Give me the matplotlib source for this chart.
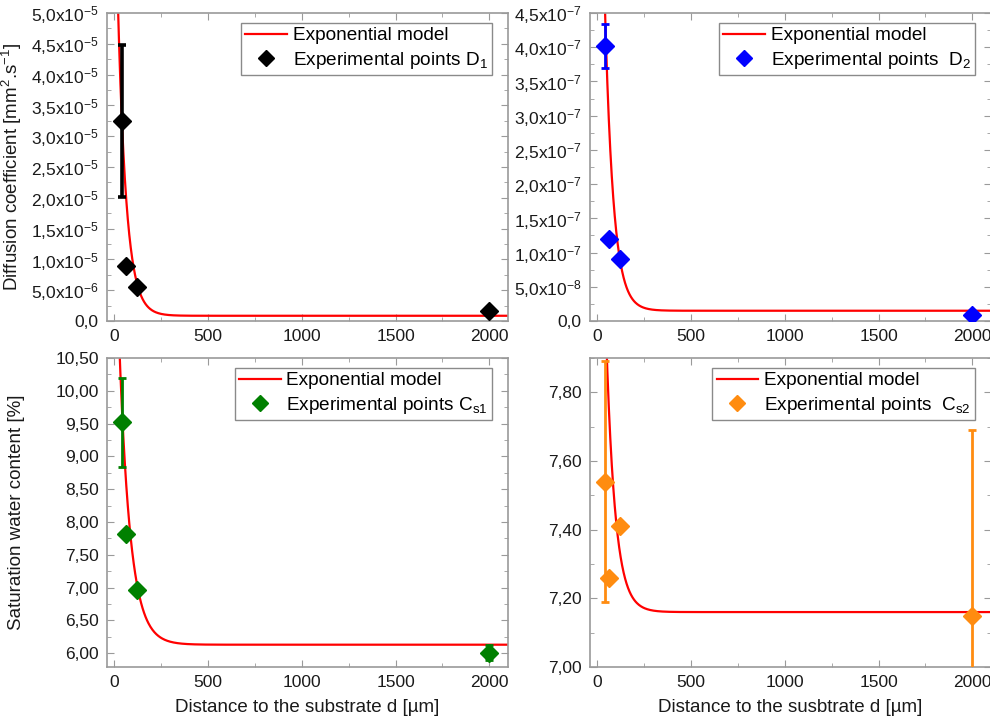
import numpy as np
import matplotlib
matplotlib.use("Agg")
import matplotlib.pyplot as plt
from matplotlib.ticker import MultipleLocator, FuncFormatter

# ==========================================
# data
# ==========================================
dist = [40, 60, 120, 2000]

d1 = [3.25e-5, 0.89e-5, 0.56e-5, 0.17e-5]
d1_err = [1.23e-5, 0, 0, 0]
d1_model = dict(y0=0.085e-5, a=7.6e-5, t=45)

d2 = [4.02e-7, 1.20e-7, 0.91e-7, 0.09e-7]
d2_err = [0.32e-7, 0, 0, 0]
d2_model = dict(y0=0.15e-7, a=10.7e-7, t=45)

cs1 = [9.52, 7.81, 6.97, 6.01]
cs1_err = [0.68, 0, 0, 0.115]
cs1_model = dict(y0=6.13, a=7.05, t=59)

cs2 = [7.54, 7.26, 7.41, 7.15]
cs2_err = [0.35, 0, 0, 0.54]
cs2_model = dict(y0=7.16, a=2.1, t=48)

# ==========================================
# style
# ==========================================
plt.rcParams['font.family'] = ['Liberation Sans', 'DejaVu Sans']
plt.rcParams['mathtext.fontset'] = 'custom'
plt.rcParams['mathtext.rm'] = 'Liberation Sans'
plt.rcParams['mathtext.it'] = 'Liberation Sans:italic'
plt.rcParams['font.size'] = 13

GRAY = '#9a9a9a'
TXT = '#1a1a1a'


def sci_fmt(v, pos):
    if abs(v) < 1e-15:
        return '0,0'
    e = int(np.floor(np.log10(abs(v)) + 1e-9))
    m = v / 10 ** e
    return f'{m:.1f}'.replace('.', ',') + r'x10$^{\mathregular{' + str(e) + '}}$'


def dec_fmt(v, pos):
    return f'{v:.2f}'.replace('.', ',')


def panel(rect, y, err, model, color, label, ylim, ymaj, fmt, elw=2.0):
    ax = fig.add_axes(rect)
    x = np.array(dist, dtype=float)
    y = np.array(y)
    err = np.array(err)

    # courbe du modele exponentiel
    xm = np.linspace(0, 2100, 800)
    ax.plot(xm, model['y0'] + model['a'] * np.exp(-xm / model['t']),
            color='#ff0000', lw=1.6, label='Exponential model', zorder=2)

    # barres d'erreur seulement la ou il y en a
    m = err > 0
    ax.errorbar(x[m], y[m], yerr=err[m], fmt='none', ecolor=color,
                elinewidth=elw, capsize=3, capthick=elw, zorder=3)
    ax.plot(x, y, 'D', color=color, ms=9, ls='none', label=label, zorder=4)

    ax.set_xlim(-40, 2100)
    ax.set_ylim(*ylim)
    ax.xaxis.set_major_locator(MultipleLocator(500))
    ax.xaxis.set_minor_locator(MultipleLocator(250))
    ax.yaxis.set_major_locator(MultipleLocator(ymaj))
    ax.yaxis.set_minor_locator(MultipleLocator(ymaj / 2))
    ax.yaxis.set_major_formatter(FuncFormatter(fmt))
    ax.tick_params(which='both', direction='in', top=True, right=True,
                   color=GRAY, labelcolor=TXT, labelsize=12.5)
    ax.tick_params(which='major', length=5, pad=6)
    ax.tick_params(which='minor', length=3)
    for s in ax.spines.values():
        s.set_color(GRAY)
        s.set_linewidth(1.2)

    leg = ax.legend(loc='upper right', bbox_to_anchor=(0.96, 0.968),
                    borderaxespad=0, fancybox=False, framealpha=1,
                    edgecolor='#8a8a8a', numpoints=1, handlelength=2.2,
                    handletextpad=0.3, fontsize=13.7, labelspacing=0.3,
                    borderpad=0.22, markerscale=0.85)
    leg.get_frame().set_linewidth(1.0)
    return ax


fig = plt.figure(figsize=(9.9, 7.2), dpi=100)

W = 401 / 990
H = 308 / 720

ax1 = panel([107 / 990, 1 - 321 / 720, W, H], d1, d1_err, d1_model, 'black',
            r'Experimental points D$_{\mathregular{1}}$', (0, 5e-5), 0.5e-5,
            sci_fmt, elw=2.6)
ax1.set_ylabel(r'Diffusion coefficient [mm$^{\mathregular{2}}$.s$^{\mathregular{-1}}$]',
               color=TXT, fontsize=13.5, labelpad=5)

ax2 = panel([590 / 990, 1 - 321 / 720, W, H], d2, d2_err, d2_model, '#0000ff',
            r'Experimental points  D$_{\mathregular{2}}$', (0, 4.5e-7), 0.5e-7,
            sci_fmt)

ax3 = panel([107 / 990, 1 - 667 / 720, W, 309 / 720], cs1, cs1_err, cs1_model,
            '#008000', r'Experimental points C$_{\mathregular{s1}}$',
            (5.79, 10.5), 0.5, dec_fmt)
ax3.set_ylabel('Saturation water content [%]', color=TXT, fontsize=13.5,
               labelpad=22)
ax3.set_xlabel('Distance to the substrate d [µm]', color=TXT, fontsize=13.5,
               labelpad=6)

ax4 = panel([590 / 990, 1 - 667 / 720, W, 309 / 720], cs2, cs2_err, cs2_model,
            '#ff8c10', r'Experimental points  C$_{\mathregular{s2}}$',
            (7.0, 7.9), 0.2, dec_fmt)
ax4.set_xlabel('Distance to the susbtrate d [µm]', color=TXT, fontsize=13.5,
               labelpad=6)

fig.savefig('out.png', dpi=100)
